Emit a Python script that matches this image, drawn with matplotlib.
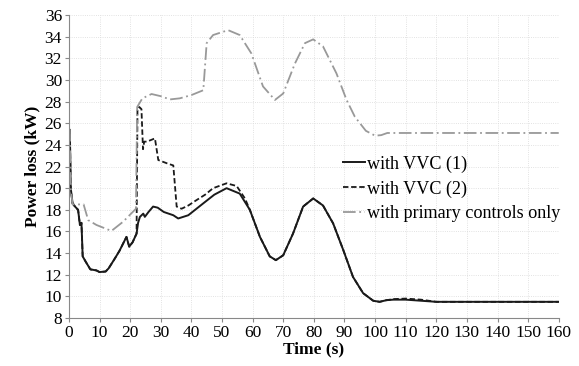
import numpy as np
import matplotlib.pyplot as plt

# Power loss traces (kW) against simulation time (s)
t_vvc1 = [0, 0.3, 0.6, 1.2, 2.0, 3.0, 3.6, 4.1, 4.5, 5.5, 7.0, 9.0, 10.0,
          12.0, 13.0, 15.0, 16.5, 18.8, 19.7, 20.8, 22.1, 22.6, 23.2, 24.3,
          24.8, 26.0, 27.5, 29.0, 31.0, 34.1, 35.7, 39.0, 43.9, 47.5, 51.5,
          55.8, 59.1, 62.4, 65.6, 67.6, 70.0, 73.2, 76.5, 79.8, 83.0, 86.3,
          89.6, 92.8, 96.1, 99.4, 101.5, 103.7, 106.0, 110.0, 115.0, 120.0,
          160.0]
p_vvc1 = [25.4, 25.4, 20.0, 18.6, 18.3, 18.0, 16.6, 16.8, 13.7, 13.2, 12.5,
          12.4, 12.25, 12.3, 12.6, 13.5, 14.2, 15.5, 14.6, 15.0, 15.8, 16.8,
          17.35, 17.65, 17.35, 17.8, 18.3, 18.2, 17.8, 17.5, 17.2, 17.5,
          18.6, 19.4, 20.0, 19.5, 18.0, 15.5, 13.7, 13.35, 13.8, 15.8, 18.3,
          19.05, 18.4, 16.75, 14.3, 11.8, 10.3, 9.6, 9.5, 9.65, 9.7, 9.7,
          9.6, 9.5, 9.5]

t_vvc2 = [0, 0.3, 0.6, 1.2, 2.0, 3.0, 3.6, 4.1, 4.5, 5.5, 7.0, 9.0, 10.0,
          12.0, 13.0, 15.0, 16.5, 18.8, 19.7, 20.8, 22.1, 22.4, 23.0, 23.7,
          24.2, 24.6, 25.5, 28.1, 29.2, 32.0, 34.1, 35.2, 36.8, 39.0, 41.7,
          44.5, 47.1, 51.5, 54.8, 57.5, 59.1, 62.4, 65.6, 67.6, 70.0, 73.2,
          76.5, 79.8, 83.0, 86.3, 89.6, 92.8, 96.1, 99.4, 101.5, 103.7, 106.0,
          110.0, 115.0, 120.0, 160.0]
p_vvc2 = [25.4, 25.4, 20.0, 18.6, 18.3, 18.0, 16.6, 16.8, 13.7, 13.2, 12.5,
          12.4, 12.25, 12.3, 12.6, 13.5, 14.2, 15.5, 14.6, 15.0, 15.8, 27.3,
          27.5, 27.3, 23.6, 24.3, 24.3, 24.6, 22.6, 22.3, 22.1, 18.3, 18.1,
          18.4, 18.9, 19.4, 20.0, 20.45, 20.2, 19.05, 18.0, 15.5, 13.7, 13.35,
          13.8, 15.8, 18.3, 19.05, 18.4, 16.75, 14.3, 11.8, 10.3, 9.6, 9.5,
          9.65, 9.75, 9.8, 9.7, 9.5, 9.5]

t_prim = [0, 0.3, 0.6, 1.2, 4.8, 6.3, 9.0, 13.9, 17.7, 21.9, 22.3, 24.0, 27.0,
          30.0, 33.0, 36.2, 40.0, 43.9, 45.0, 47.1, 52.0, 55.8, 59.6, 63.4,
          67.3, 70.0, 73.8, 77.1, 79.8, 83.0, 87.4, 90.7, 93.4, 97.0, 100.0,
          102.0, 104.0, 110.0, 160.0]
p_prim = [25.4, 25.4, 20.0, 18.5, 18.5, 17.05, 16.6, 16.05, 16.9, 18.1, 27.5,
          28.3, 28.7, 28.5, 28.2, 28.3, 28.6, 29.05, 33.4, 34.15, 34.6, 34.15,
          32.45, 29.4, 28.15, 28.75, 31.5, 33.4, 33.75, 33.1, 30.6, 28.15,
          26.6, 25.3, 24.85, 24.9, 25.1, 25.1, 25.1]

x_ticks = np.arange(0, 161, 10)
y_ticks = np.arange(8, 37, 2)

plt.rcParams['font.family'] = ['Liberation Serif', 'DejaVu Serif']

fig = plt.figure(figsize=(5.79, 3.66), dpi=100)
ax = fig.add_axes([0.119, 0.131, 0.846, 0.828])

ax.plot(t_vvc1, p_vvc1, color='#1a1a1a', lw=1.4, ls='-', label='with VVC (1)')
ax.plot(t_vvc2, p_vvc2, color='#1a1a1a', lw=1.3, ls=(0, (3, 1.5)),
        label='with VVC (2)')
ax.plot(t_prim, p_prim, color='#999999', lw=1.3, ls=(0, (7, 2, 1, 2)),
        label='with primary controls only')

ax.set_xlim(0, 160)
ax.set_ylim(8, 36)
ax.set_xticks(x_ticks)
ax.set_yticks(y_ticks)
ax.tick_params(labelsize=12.5, length=3, color='#888888', pad=2)
ax.grid(True, color='#d9d9d9', lw=0.6, ls=':')
ax.set_axisbelow(True)
for side in ('top', 'right'):
    ax.spines[side].set_visible(False)
for side in ('left', 'bottom'):
    ax.spines[side].set_color('#888888')

ax.set_xlabel('Time (s)', fontsize=12.5, fontweight='bold', labelpad=0)
ax.set_ylabel('Power loss (kW)', fontsize=12.5, fontweight='bold', labelpad=3)

ax.legend(loc='upper left', bbox_to_anchor=(0.58, 0.595),
          bbox_transform=fig.transFigure, frameon=False, fontsize=13.1,
          handlelength=1.2, handletextpad=0.1, labelspacing=0.42,
          borderaxespad=0)

fig.savefig('out.png', dpi=100)
